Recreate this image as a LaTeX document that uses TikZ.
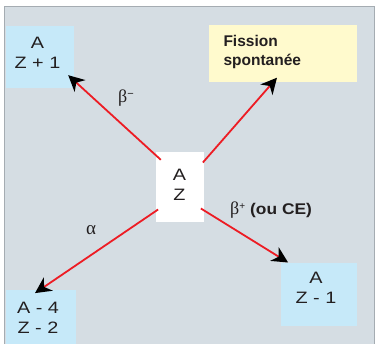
\documentclass[tikz,border=0pt]{standalone}
\usepackage{fontspec}
\setmainfont{Liberation Sans}
\newfontfamily\widesans[FakeStretch=1.2]{Liberation Sans}
\newfontfamily\cefont[FakeStretch=1.12]{Liberation Sans}
\newfontfamily\grk{Liberation Serif}
\usetikzlibrary{arrows.meta,calc}
\definecolor{panel}{RGB}{213,221,227}
\definecolor{panelline}{RGB}{165,172,178}
\definecolor{bluefill}{RGB}{198,233,249}
\definecolor{yellowfill}{RGB}{255,250,205}
\definecolor{redline}{RGB}{237,28,36}
\definecolor{ink}{RGB}{35,31,32}
\tikzset{
  boxbase/.style={rectangle, inner sep=0pt, draw=none},
  bluebox/.style={boxbase, fill=bluefill},
  yellowbox/.style={boxbase, fill=yellowfill},
  whitebox/.style={boxbase, fill=white},
  nuc/.style={inner sep=0pt, align=center, text=ink, font=\widesans\fontsize{16.5}{20}\selectfont},
  fistext/.style={inner sep=0pt, align=left, text=ink, font=\bfseries\fontsize{15.5}{18.5}\selectfont},
  lbl/.style={inner sep=0pt, anchor=base west, text=ink},
  arr/.style={draw=redline, line width=1.8pt, -{Stealth[length=16pt,width=16pt,inset=5pt,black]}}
}
\begin{document}
\begin{tikzpicture}[x=1pt,y=-1pt]
\useasboundingbox (0,0) rectangle (375,344);
\fill[white] (0,0) rectangle (375,344);
\draw[fill=panel, draw=panelline, line width=0.8pt] (4.5,6.5) rectangle (374.5,346);
% boxes
\node[bluebox, minimum width=68pt, minimum height=62.3pt] (b1) at (40,57.15) {};
\node[yellowbox, minimum width=148.3pt, minimum height=57.3pt] (fis) at (282.85,53.35) {};
\node[bluebox, minimum width=76pt, minimum height=62.7pt] (b3) at (319.3,294.65) {};
\node[bluebox, minimum width=70.3pt, minimum height=54pt] (b4) at (41.15,317) {};
\node[whitebox, minimum width=48pt, minimum height=70pt] (c) at (180,186.7) {};
% texts
\node[nuc] (b1t) at (37.5,53.3) {A\\Z + 1};
\node[nuc] (ct) at (179.5,185) {A\\Z};
\node[nuc] (b3t) at (316,288) {A\\Z - 1};
\node[nuc] (b4t) at (38,318.3) {A - 4\\Z - 2};
\node[fistext, anchor=west] (fist) at (223.3,52) {Fission\\spontanée};
% arrows
\draw[arr] ($(c.north west)+(5,8.3)$) -- ($(b1.south east)+(-6,-13.3)$);
\draw[arr] ($(c.north east)+(-1.3,11)$) -- ($(fis.south)+(-5.85,-4.5)$);
\draw[arr] ($(c.south east)+(-3.3,-13.4)$) -- ($(b3.north west)+(7,-0.6)$);
\draw[arr] ($(c.south west)+(2.3,-12.4)$) -- ($(b4.north)+(-6.15,3.3)$);
% labels
\node[lbl] (lbm) at (118,102.4) {{\grk\fontsize{18}{18}\selectfont β}\raisebox{4.5pt}{\fontsize{11}{11}\selectfont −}};
\node[lbl] (lbp) at (230,214.6) {{\grk\fontsize{18}{18}\selectfont β}\raisebox{5pt}{\fontsize{10}{10}\selectfont +}\hspace{5pt}{\cefont\bfseries\fontsize{15.5}{18}\selectfont (ou CE)}};
\node[lbl] (la) at (86,235) {{\grk\fontsize{19}{19}\selectfont α}};
\end{tikzpicture}
\end{document}
